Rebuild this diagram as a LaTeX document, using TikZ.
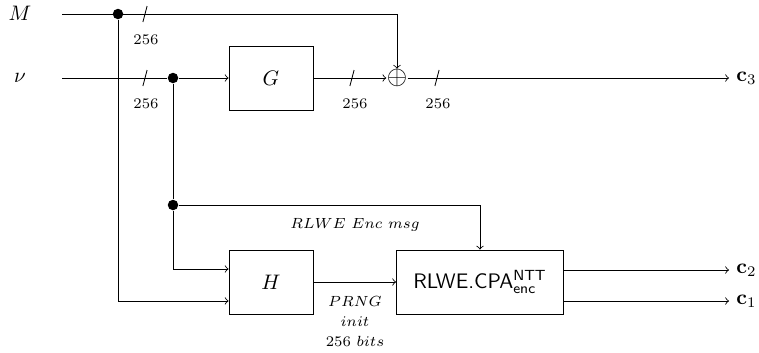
\documentclass[tikz,border=0pt]{standalone}
\usepackage{amsmath}

\begin{document}
\begin{tikzpicture}[
                x=0.476pt, y=-0.476pt,
                box/.style={
                    draw,
                    rectangle,
                    minimum width=40pt,
                    minimum height=30.5pt,
                    align=center
                },
                encbox/.style={
                    box,
                    minimum width=79.5pt
                },
                dot/.style={
                    circle,
                    fill=black,
                    inner sep=0pt,
                    minimum size=5pt
                },
                xorop/.style={
                    inner sep=0pt,
                    scale=1.25
                },
                buslabel/.style={
                    font=\scriptsize
                },
                arrow/.style={
                    ->
                }
            ]
                \useasboundingbox (0,0) rectangle (759,352);

                \node (M) at (20,13) {$M$};
                \node (nu) at (20,78) {$\nu$};
                \coordinate (Min) at (62,14);
                \coordinate (nuin) at (62,78);

                \node[dot] (d1) at (118,14) {};
                \node[dot] (d2) at (173,78) {};
                \node[dot] (d3) at (173,205) {};

                \node[box] (G) at (271,78) {$G$};
                \node[box] (H) at (271,282) {$H$};
                \node[encbox] (enc) at (480,282) {\textsf{RLWE.CPA}$^{\mathsf{NTT}}_{\mathsf{enc}}$};
                \node[xorop] (xor) at (397,78) {$\oplus$};

                \node[anchor=west] (c3) at (729,78) {$\mathbf{c}_3$};
                \node[anchor=west] (c2) at (729,270) {$\mathbf{c}_2$};
                \node[anchor=west] (c1) at (729,301) {$\mathbf{c}_1$};

                % bus widths
                \coordinate (busM) at (145,14);
                \coordinate (busnu) at (145,78);
                \coordinate (busG) at (352,78);
                \coordinate (busX) at (437,78);
                \foreach \b in {busM,busnu,busG,busX}
                    \draw ([shift={(-1pt,-3.8pt)}]\b) -- ([shift={(1pt,3.8pt)}]\b);
                \node[buslabel] (lM) at (146,40) {256};
                \node[buslabel] (lnu) at (146,104) {256};
                \node[buslabel] (lG) at (355,104) {256};
                \node[buslabel] (lX) at (438,104) {256};

                \draw[arrow] (Min) -| (xor.north);
                \draw (nuin) -- (d2);
                \draw[arrow] (d2) -- (G);
                \draw[arrow] (G) -- (xor);
                \draw[arrow] (xor) -- (c3);
                \draw[arrow] (d1) |- ([yshift=-9pt]H.west);
                \draw (d2) -- (d3);
                \draw[arrow] (d3) |- ([yshift=6.2pt]H.west);
                \draw[arrow] (d3) -| (enc.north);
                \draw[arrow] (H) -- (enc);
                \draw[arrow] (enc.east |- c2) -- (c2);
                \draw[arrow] (enc.east |- c1) -- (c1);

                \node[buslabel] (msg) at (355,225) {$RLWE\ Enc\ msg$};
                \node[buslabel, align=center] (prng) at (355,321) {$PRNG$\\[1.5pt]$init$\\[1.5pt]$256\ bits$};
        \end{tikzpicture}
\end{document}
